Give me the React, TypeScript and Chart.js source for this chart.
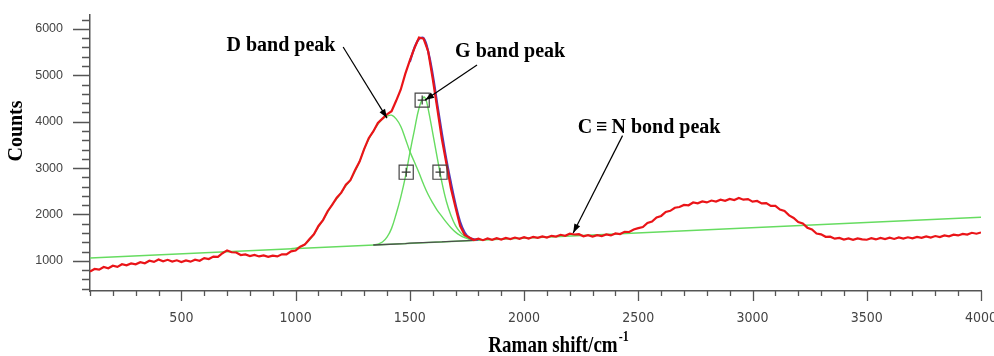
import React, { useEffect, useRef } from 'react';
import { Chart, registerables } from 'chart.js';

Chart.register(...registerables);

// Raw Raman spectrum (counts), sampled every 20 cm-1 from 100 to 4000
const spectrumStart = 100;
const spectrumStep = 20;
const spectrumCounts = [
  770, 825, 810, 868, 840, 895, 870, 928, 905, 945,
  925, 972, 948, 1003, 978, 1030, 990, 1022, 985, 1012,
  975, 1008, 982, 1025, 1002, 1058, 1038, 1092, 1085, 1165,
  1225, 1185, 1180, 1125, 1140, 1102, 1128, 1095, 1118, 1085,
  1112, 1096, 1140, 1138, 1206, 1222, 1305, 1350, 1466, 1572,
  1752, 1878, 2070, 2205, 2362, 2470, 2640, 2738, 2955, 3140,
  3410, 3645, 3790, 3972, 4065, 4160, 4225, 4450, 4690, 5030,
  5320, 5585, 5815, 5790, 5520, 4930, 4290, 3630, 3100, 2560,
  2150, 1755, 1560, 1505, 1450, 1478, 1445, 1482, 1455, 1488,
  1460, 1495, 1470, 1502, 1475, 1510, 1482, 1518, 1495, 1528,
  1502, 1540, 1522, 1562, 1540, 1585, 1568, 1575, 1530, 1552,
  1522, 1552, 1535, 1568, 1548, 1590, 1578, 1625, 1622, 1675,
  1705, 1728, 1815, 1848, 1935, 1968, 2055, 2078, 2145, 2160,
  2205, 2198, 2258, 2240, 2282, 2260, 2300, 2278, 2318, 2295,
  2335, 2310, 2355, 2318, 2330, 2275, 2290, 2238, 2245, 2185,
  2185, 2105, 2075, 1980, 1925, 1838, 1805, 1715, 1675, 1590,
  1572, 1518, 1520, 1478, 1495, 1460, 1485, 1455, 1482, 1462,
  1455, 1488, 1462, 1495, 1470, 1500, 1472, 1505, 1480, 1508,
  1485, 1515, 1495, 1528, 1502, 1535, 1512, 1548, 1530, 1565,
  1548, 1582, 1565, 1605, 1585, 1612,
];

// Linear baseline
const baselineShift = [100, 4000];
const baselineCounts = [1060, 1940];

// Local baseline under the fitted peaks
const localBaseShift = [1340, 1480, 1500, 1640, 1660, 1780];
const localBaseCounts = [1342, 1372, 1380, 1408, 1416, 1441];

// D band fitted curve
const dBandShift = [
  980, 1000, 1020, 1040, 1060, 1080, 1100, 1120, 1140, 1160, 1180, 1200, 1220, 1240,
  1260, 1280, 1300, 1320, 1340, 1360, 1380, 1400, 1420, 1440, 1460, 1480, 1500, 1520,
  1540, 1560, 1580, 1600, 1620, 1640, 1660, 1680, 1700, 1720, 1740, 1760, 1780,
];
const dBandCounts = [
  1262, 1275, 1300, 1355, 1445, 1570, 1735, 1885, 2045, 2215, 2335, 2475, 2615, 2745,
  2925, 3140, 3410, 3620, 3795, 3945, 4060, 4120, 4140, 4060, 3900, 3640, 3360, 3130,
  2900, 2650, 2430, 2250, 2090, 1960, 1830, 1715, 1620, 1550, 1500, 1465, 1440,
];

// G band fitted curve
const gBandShift = [
  1340, 1360, 1380, 1400, 1420, 1440, 1460, 1480, 1500, 1520, 1540, 1560, 1570, 1580,
  1600, 1620, 1640, 1660, 1680, 1700, 1720, 1740, 1760, 1780,
];
const gBandCounts = [
  1342, 1362, 1405, 1510, 1700, 2010, 2370, 2800, 3330, 3820, 4290, 4530, 4480, 4280,
  3760, 3220, 2700, 2280, 1980, 1760, 1620, 1530, 1475, 1445,
];

// Cumulative fit (visible on the high-shift flank of the main peak)
const fitShift = [1500, 1520, 1540, 1560, 1580, 1600, 1620, 1640, 1660, 1680, 1700, 1720, 1740, 1760, 1780, 1800];
const fitCounts = [5290, 5590, 5780, 5800, 5520, 5020, 4380, 3760, 3180, 2680, 2220, 1840, 1610, 1500, 1465, 1458];

// Peak-fit handle markers
const markerShift = [1484, 1554, 1632];
const markerCounts = [2912, 4465, 2912];

// Axis ranges / tick steps
const xMin = 100, xMax = 4000, xMinorStep = 100, xMajorStep = 500;
const yMin = 350, yMax = 6300, yMinorStep = 200, yMajorStep = 1000;

// Annotation texts with anchor points (data units)
const annotations = [
  { text: 'D band peak', tx: 936, ty: 5523, ax: 1208, ay: 5609, bx: 1400, by: 4077 },
  { text: 'G band peak', tx: 1939, ty: 5400, ax: 1794, ay: 5220, bx: 1567, by: 4465 },
  { text: 'C\u2009\u2261\u2009N bond peak', tx: 2547, ty: 3747, ax: 2431, ay: 3700, bx: 2215, by: 1602 },
];

const GREEN = '#66dc60';

function drawArrow(ctx: CanvasRenderingContext2D, x1: number, y1: number, x2: number, y2: number) {
  ctx.beginPath();
  ctx.moveTo(x1, y1);
  ctx.lineTo(x2, y2);
  ctx.stroke();
  const a = Math.atan2(y2 - y1, x2 - x1);
  const L = 9, W = 3.2;
  ctx.beginPath();
  ctx.moveTo(x2, y2);
  ctx.lineTo(x2 - L * Math.cos(a) + W * Math.sin(a), y2 - L * Math.sin(a) - W * Math.cos(a));
  ctx.lineTo(x2 - L * Math.cos(a) - W * Math.sin(a), y2 - L * Math.sin(a) + W * Math.cos(a));
  ctx.closePath();
  ctx.fill();
}

const overlayPlugin = {
  id: 'overlay',
  afterDraw(chart: any) {
    const ctx: CanvasRenderingContext2D = chart.ctx;
    const xs = chart.scales.x;
    const ys = chart.scales.y;
    ctx.save();
    // tick marks
    ctx.strokeStyle = '#555';
    ctx.lineWidth = 1.3;
    ctx.beginPath();
    xs.ticks.forEach((t: any) => {
      const px = Math.round(xs.getPixelForValue(t.value)) + 0.5;
      const len = t.value % xMajorStep === 0 ? 10 : 5;
      ctx.moveTo(px, xs.top);
      ctx.lineTo(px, xs.top + len);
    });
    ys.ticks.forEach((t: any) => {
      const py = Math.round(ys.getPixelForValue(t.value)) + 0.5;
      const len = t.value % yMajorStep === 0 ? 17 : 8;
      ctx.moveTo(ys.right, py);
      ctx.lineTo(ys.right - len, py);
    });
    ctx.stroke();

    // annotations
    ctx.fillStyle = '#000';
    ctx.strokeStyle = '#000';
    ctx.lineWidth = 1.2;
    ctx.font = 'bold 20px "Liberation Serif", "Times New Roman", serif';
    ctx.textAlign = 'center';
    ctx.textBaseline = 'alphabetic';
    annotations.forEach((a) => {
      ctx.fillText(a.text, xs.getPixelForValue(a.tx), ys.getPixelForValue(a.ty));
      drawArrow(ctx, xs.getPixelForValue(a.ax), ys.getPixelForValue(a.ay), xs.getPixelForValue(a.bx), ys.getPixelForValue(a.by));
    });

    // y axis title
    ctx.save();
    ctx.translate(17, 131);
    ctx.rotate(-Math.PI / 2);
    ctx.textAlign = 'center';
    ctx.textBaseline = 'middle';
    ctx.font = 'bold 20px "Liberation Serif", "Times New Roman", serif';
    ctx.fillText('Counts', 0, 0);
    ctx.restore();

    // x axis title with superscript
    const main = 'Raman shift/cm';
    const sup = '-1';
    ctx.font = 'bold 19px "Liberation Serif", "Times New Roman", serif';
    const w1 = ctx.measureText(main).width;
    ctx.font = 'bold 12px "Liberation Serif", "Times New Roman", serif';
    const w2 = ctx.measureText(sup).width;
    const cx = 558, cy = 346;
    const x0 = cx - (w1 + w2) / 2;
    ctx.save();
    ctx.translate(x0, cy);
    ctx.scale(1, 1.2);
    ctx.textAlign = 'left';
    ctx.textBaseline = 'middle';
    ctx.font = 'bold 19px "Liberation Serif", "Times New Roman", serif';
    ctx.fillText(main, 0, 0);
    ctx.font = 'bold 12px "Liberation Serif", "Times New Roman", serif';
    ctx.fillText(sup, w1 + 1, -7);
    ctx.restore();

    ctx.restore();
  },
};

const App = () => {
  const ref = useRef<HTMLCanvasElement | null>(null);

  useEffect(() => {
    document.body.style.margin = '0';
    const canvas = ref.current;
    if (!canvas) return;
    const pts = (xs: number[], ys: number[]) => xs.map((x, i) => ({ x, y: ys[i] }));
    const spectrum = spectrumCounts.map((y, i) => ({ x: spectrumStart + i * spectrumStep, y }));
    const markers = pts(markerShift, markerCounts);

    const chart = new Chart(canvas, {
      type: 'line',
      data: {
        datasets: [
          {
            data: markers, showLine: false, pointStyle: 'cross', pointRadius: 4.5,
            pointBorderColor: '#333', pointBorderWidth: 1.2, borderColor: '#333',
          },
          {
            data: markers, showLine: false, pointStyle: 'rect', pointRadius: 10,
            pointBorderColor: '#444', pointBorderWidth: 1.2, pointBackgroundColor: 'rgba(0,0,0,0)',
            borderColor: '#444', backgroundColor: 'rgba(0,0,0,0)',
          },
          { data: spectrum, borderColor: '#ea1418', borderWidth: 2.2, pointRadius: 0, tension: 0 },
          { data: pts(fitShift, fitCounts), borderColor: '#4a3cc0', borderWidth: 2.2, pointRadius: 0, tension: 0.4 },
          { data: pts(localBaseShift, localBaseCounts), borderColor: '#4d4d4d', borderWidth: 1.3, pointRadius: 0, tension: 0 },
          { data: pts(dBandShift, dBandCounts), borderColor: GREEN, borderWidth: 1.4, pointRadius: 0, tension: 0.4 },
          { data: pts(gBandShift, gBandCounts), borderColor: GREEN, borderWidth: 1.4, pointRadius: 0, tension: 0.4 },
          { data: pts(baselineShift, baselineCounts), borderColor: GREEN, borderWidth: 1.5, pointRadius: 0, tension: 0 },
        ],
      },
      options: {
        responsive: false,
        animation: false,
        devicePixelRatio: 1,
        layout: { padding: { top: 15, right: 13, left: 0, bottom: 0 } },
        plugins: { legend: { display: false }, tooltip: { enabled: false }, title: { display: false } },
        scales: {
          x: {
            type: 'linear',
            min: xMin,
            max: xMax,
            afterFit: (s: any) => { s.height = 65; s.paddingLeft = 0; s.paddingRight = 0; },
            grid: { display: false, drawTicks: false },
            border: { display: true, color: '#555', width: 1.5 },
            ticks: {
              stepSize: xMinorStep,
              autoSkip: false,
              maxRotation: 0,
              minRotation: 0,
              padding: 19,
              color: '#444',
              font: { family: '"Liberation Sans Narrow", "DejaVu Sans Condensed", "Liberation Sans", sans-serif', size: 14 },
              callback: (v: any) => (Number(v) % xMajorStep === 0 ? String(v) : ''),
            },
          },
          y: {
            type: 'linear',
            min: yMin,
            max: yMax,
            afterFit: (s: any) => { s.width = 90; s.paddingTop = 0; s.paddingBottom = 0; },
            grid: { display: false, drawTicks: false },
            border: { display: true, color: '#555', width: 1.5 },
            ticks: {
              stepSize: yMinorStep,
              includeBounds: false,
              autoSkip: false,
              padding: 27,
              color: '#444',
              font: { family: '"Liberation Sans", Arial, sans-serif', size: 12.5 },
              callback: (v: any) => (Number(v) % yMajorStep === 0 ? String(v) : ''),
            },
          },
        },
      },
      plugins: [overlayPlugin],
    } as any);

    return () => chart.destroy();
  }, []);

  return (
    <div style={{ width: 994, height: 356, position: 'relative' }}>
      <canvas ref={ref} width={994} height={356} style={{ display: 'block', width: 994, height: 356 }} />
    </div>
  );
};

export default App;
